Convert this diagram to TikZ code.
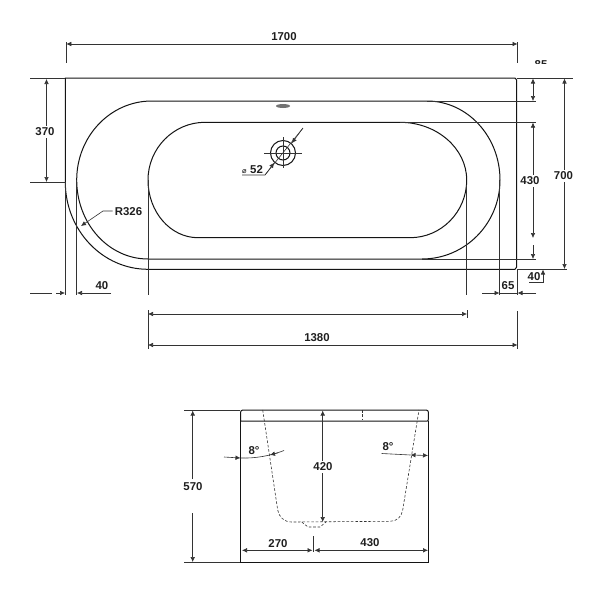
\documentclass[tikz,border=0pt]{standalone}
\usepackage{fontspec}
\setmainfont{Liberation Sans}
\usetikzlibrary{arrows.meta}
\tikzset{
  body/.style={line width=1pt,draw=black!92},
  dim/.style={line width=0.6pt,draw=black!80},
  arr/.style={dim,-{Latex[length=5pt,width=4.6pt]}},
  arrs/.style={dim,{Latex[length=5pt,width=4.6pt]}-{Latex[length=5pt,width=4.6pt]}},
  lab/.style={font=\bfseries\fontsize{11.4}{11.4}\selectfont,text=black!88,inner sep=2pt,yshift=-1pt},
  dashline/.style={line width=0.6pt,draw=black!80,dash pattern=on 2.6pt off 1.8pt},
}
\begin{document}
\begin{tikzpicture}[x=1pt,y=-1pt]
\useasboundingbox (0,0) rectangle (600,600);
\fill[white] (0,0) rectangle (600,600);
% ---- plan view
\draw[body] (65.3,182) -- (65.3,78) -- (515,78) -- (516.7,80) -- (516.7,267) -- (515,269.3) -- (148,269.3)
  .. controls (102.3,269.3) and (65.3,230) .. (65.3,182);
\draw[body] (151.7,101) -- (427,101) .. controls (467.3,101) and (500,136.4) .. (500,180)
  .. controls (500,223.6) and (465,259) .. (422,259) -- (148,259)
  .. controls (108.6,259) and (76.7,223.6) .. (76.7,180) .. controls (76.7,136.4) and (110.3,101) .. (151.7,101);
\draw[body] (205,122.3) -- (400,122.3) .. controls (436.8,122.3) and (466.7,148.4) .. (466.7,180)
  .. controls (466.7,211.9) and (441.3,237.7) .. (410,237.7) -- (198,237.7)
  .. controls (170.4,237.7) and (148,211.9) .. (148,180) .. controls (148,148.4) and (173.5,122.3) .. (205,122.3);
\fill[black!55] (283,106) ellipse [x radius=7,y radius=2];
\draw[body] (283,153) circle [radius=12.5];
\draw[body] (283,153) circle [radius=7];
\draw[dim] (264,153) -- (302,153) (283,137) -- (283,168);
% drain leader
\coordinate (dA) at (242,175); \coordinate (dB) at (265,175); \coordinate (dC) at (303,128);
\coordinate (dT1) at (274.2,162.8); \coordinate (dT2) at (291.8,143.2);
\draw[dim] (dA) -- (dB) -- (dC);
\draw[arr] (dB) -- (dT1);
\draw[arr] (dC) -- (dT2);
\node[lab] (l52) at (252.5,169) {\fontspec{DejaVu Sans}\fontsize{7.5}{7.5}\selectfont ⌀\hspace{3.5pt}\fontspec{Liberation Sans Bold}\fontsize{11.4}{11.4}\selectfont 52};
% 1700
\coordinate (a1) at (66.3,44); \coordinate (a2) at (517.5,44);
\coordinate (e1a) at (66.3,42); \coordinate (e1b) at (66.3,63);
\coordinate (e2a) at (517.5,42); \coordinate (e2b) at (517.5,63);
\draw[dim] (e1a) -- (e1b) (e2a) -- (e2b);
\draw[arrs] (a1) -- (a2);
\node[lab] (l1700) at (284,36) {1700};
% 370
\coordinate (c1) at (30,78.5); \coordinate (c2) at (65,78.5); \coordinate (c3) at (30,182); \coordinate (c4) at (65,182);
\draw[dim] (c1) -- (c2) (c3) -- (c4);
\node[lab] (l370) at (45,131) {370};
\coordinate (c5) at (46.5,79); \coordinate (c6) at (46.5,182);
\draw[arr] (l370.north -| c5) -- (c5);
\draw[arr] (l370.south -| c6) -- (c6);
% R326
\node[lab] (lR) at (128.5,211) {R326};
\coordinate (r1) at (103,211); \coordinate (r2) at (81,226);
\draw[arr] (lR.west |- r1) -- (r1) -- (r2);
% verticals down to bottom dims
\coordinate (v1a) at (65.3,182); \coordinate (v1b) at (65.3,295);
\coordinate (v2a) at (76.7,180); \coordinate (v2b) at (76.7,295);
\coordinate (v3a) at (148,180); \coordinate (v3b) at (148,295);
\coordinate (v4a) at (466.7,185); \coordinate (v4b) at (466.7,295);
\coordinate (v5a) at (499.5,180); \coordinate (v5b) at (499.5,295);
\coordinate (v6a) at (517.5,269); \coordinate (v6b) at (517.5,295);
\draw[dim] (v1a) -- (v1b) (v2a) -- (v2b) (v3a) -- (v3b) (v4a) -- (v4b) (v5a) -- (v5b) (v6a) -- (v6b);
% 40 left
\coordinate (b0) at (30,293); \coordinate (b1) at (52,293); \coordinate (b2) at (65,293);
\coordinate (b3) at (77,293); \coordinate (b4) at (111,293); \coordinate (b5) at (56,293);
\draw[dim] (b0) -- (b1);
\draw[arr] (b5) -- (b2);
\draw[arr] (b4) -- (b3);
\node[lab] (l40a) at (102,285) {40};
% 65
\coordinate (f0) at (482,293); \coordinate (f1) at (499.5,293); \coordinate (f2) at (517.5,293); \coordinate (f3) at (536,293);
\draw[arr] (f0) -- (f1);
\draw[arr] (f3) -- (f2);
\draw[dim] (f1) -- (f2);
\node[lab] (l65) at (508,285) {65};
% 40 right
\node[lab] (l40b) at (534,276) {40};
\coordinate (g0) at (529,282); \coordinate (g1) at (543,282); \coordinate (g2) at (543,269.5);
\draw[arr] (g0) -- (g1) -- (g2);
% right extension lines
\coordinate (h1a) at (517,78); \coordinate (h1b) at (573,78);
\coordinate (h2a) at (427,101); \coordinate (h2b) at (536,101);
\coordinate (h3a) at (400,122.3); \coordinate (h3b) at (536,122.3);
\coordinate (h4a) at (422,259); \coordinate (h4b) at (536,259);
\coordinate (h5a) at (517,269.3); \coordinate (h5b) at (567,269.3);
\draw[dim] (h1a) -- (h1b) (h2a) -- (h2b) (h3a) -- (h3b) (h4a) -- (h4b) (h5a) -- (h5b);
% 85
\coordinate (k1) at (533,78.5); \coordinate (k2) at (533,101);
\draw[arrs] (k1) -- (k2);
\begin{scope}
\clip (525,50) rectangle (560,63);
\node[lab] (l85) at (541,64) {85};
\end{scope}
% 430 right
\node[lab] (l430a) at (530,180) {430};
\coordinate (m1) at (533,122.6); \coordinate (m2) at (533,238); \coordinate (m3) at (533,245); \coordinate (m4) at (533,259);
\draw[arr] (l430a.north -| m1) -- (m1);
\draw[arr] (l430a.south -| m2) -- (m2);
\draw[arr] (m3) -- (m4);
% 700
\node[lab] (l700) at (563.5,175) {700};
\coordinate (n1) at (564.5,78.5); \coordinate (n2) at (564.5,269);
\draw[arr] (l700.north -| n1) -- (n1);
\draw[arr] (l700.south -| n2) -- (n2);
% 1380 inner
\coordinate (p1) at (148,314); \coordinate (p2) at (467,314);
\coordinate (p1a) at (148,310); \coordinate (p1b) at (148,349);
\coordinate (p2a) at (467,310); \coordinate (p2b) at (467,318);
\draw[dim] (p1a) -- (p1b) (p2a) -- (p2b);
\draw[arrs] (p1) -- (p2);
% 1380 outer
\coordinate (q1) at (148,345); \coordinate (q2) at (517.5,345);
\coordinate (q2a) at (517.5,311); \coordinate (q2b) at (517.5,349);
\draw[dim] (q2a) -- (q2b);
\draw[arrs] (q1) -- (q2);
\node[lab] (l1380) at (317,337) {1380};
% ---- end view
\draw[body] (240.7,421) -- (240.7,562.3) -- (428.3,562.3) -- (428.3,421);
\draw[body] (240.7,421) -- (427.3,421) .. controls (428.3,421) and (428.3,420) .. (428.3,419) -- (428.3,412)
  .. controls (428.3,411) and (427.5,410) .. (426,410) -- (243,410) .. controls (241.5,410) and (240.7,411) .. (240.7,412) -- (240.7,419)
  .. controls (240.7,420) and (240.7,421) .. (240.7,421);
\draw[dashline] (262.7,410) -- (277.7,510) .. controls (279,517) and (284,522) .. (291.7,522) -- (390,521.3)
  .. controls (397,521.3) and (401.5,517) .. (402.7,510) -- (419,410);
\draw[dashline] (301.7,522) -- (308,527) -- (320,527) -- (326,522);
\draw[dashline] (362,410) -- (362,419);
% 570
\coordinate (s1a) at (184,410); \coordinate (s1b) at (240,410); \coordinate (s2a) at (184,562.3); \coordinate (s2b) at (240,562.3);
\draw[dim] (s1a) -- (s1b) (s2a) -- (s2b);
\node[lab] (l570) at (193,486) {570};
\coordinate (s3) at (192.7,410.5); \coordinate (s4) at (192.7,562); \coordinate (s5) at (192.7,513); \coordinate (s6) at (192.7,479);
\draw[arr] (s6) -- (s3);
\draw[arr] (s5) -- (s4);
% 420
\node[lab] (l420) at (323,466) {420};
\coordinate (t1) at (322.7,410.5); \coordinate (t2) at (322.7,522);
\draw[arr] (l420.north -| t1) -- (t1);
\draw[arr] (l420.south -| t2) -- (t2);
% 8 deg left
\coordinate (u1) at (224,457); \coordinate (u2) at (240.5,458); \coordinate (u3) at (284,450.5); \coordinate (u4) at (270,455); \coordinate (u5) at (278,452.8);
\draw[arr] (u1) -- (u2);
\draw[dim] (u2) .. controls (255,458.5) and (270,456) .. (u3);
\draw[arr] (u5) -- (u4);
\node[lab] (l8a) at (254,450) {8°};
% 8 deg right
\coordinate (w1) at (381.7,453.5); \coordinate (w2) at (410.5,455); \coordinate (w3) at (428,455.5);
\draw[dim] (w1) -- (w2);
\draw[arrs] (w2) -- (w3);
\node[lab] (l8b) at (388,446) {8°};
% 270 / 430
\coordinate (x1) at (242,550.3); \coordinate (x2) at (312.5,550.3); \coordinate (x3) at (314.5,550.3); \coordinate (x4) at (428,550.3);
\coordinate (x5) at (313.3,536); \coordinate (x6) at (313.3,552);
\draw[arrs] (x1) -- (x2);
\draw[arrs] (x3) -- (x4);
\draw[dim] (x5) -- (x6);
\node[lab] (l270) at (278,543) {270};
\node[lab] (l430b) at (370,542) {430};
\end{tikzpicture}
\end{document}
